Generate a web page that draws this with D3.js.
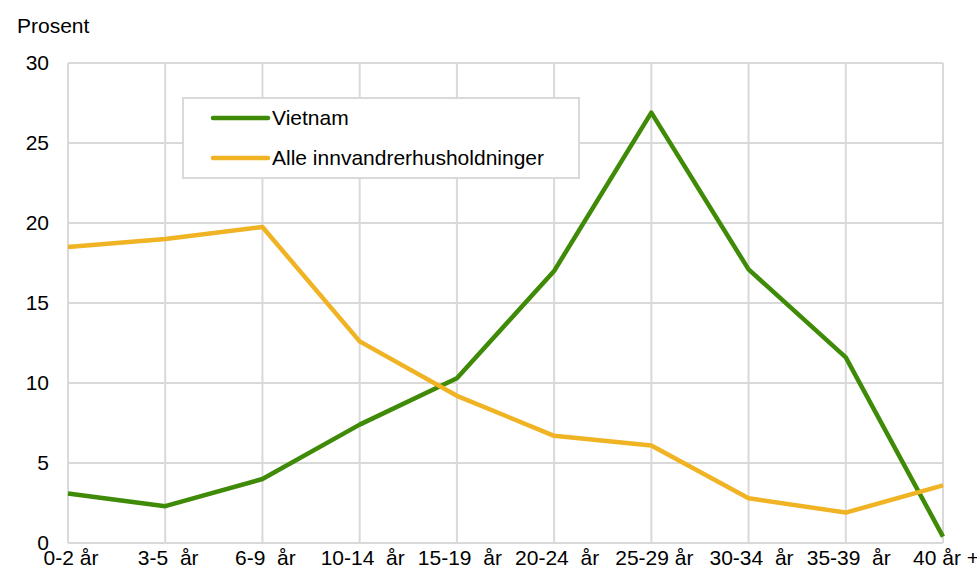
<!DOCTYPE html>
<html><head><meta charset="utf-8">
<script src="https://cdn.jsdelivr.net/npm/d3@7"></script>
<style>
body{margin:0;background:#fff;}
text{font-family:"Liberation Sans",Arial,sans-serif;fill:#000;}
</style></head>
<body>
<svg id="c" width="977" height="570"></svg>
<script>
const categories = ["0-2 år","3-5  år","6-9  år","10-14  år","15-19  år","20-24  år","25-29 år","30-34  år","35-39  år","40 år +"];
const vietnam = [3.1,2.3,4.0,7.4,10.3,17.0,26.9,17.1,11.6,0.4];
const alle = [18.5,19.0,19.75,12.6,9.2,6.7,6.1,2.8,1.9,3.6];
const yTicks = [0,5,10,15,20,25,30];
const seriesNames = ["Vietnam","Alle innvandrerhusholdninger"];
const colors = ["#3f8a06","#f0b323"];

const svg = d3.select("#c");
const x = d3.scalePoint().domain(categories).range([68,943]);
const y = d3.scaleLinear().domain([0,30]).range([543,63]);
const fs = 21;

// gridlines
svg.append("g").selectAll("line").data(yTicks).join("line")
  .attr("x1",68).attr("x2",943).attr("y1",d=>y(d)).attr("y2",d=>y(d))
  .attr("stroke","#d9d9d9").attr("stroke-width",2);
svg.append("g").selectAll("line").data(categories).join("line")
  .attr("x1",d=>x(d)).attr("x2",d=>x(d)).attr("y1",y(0)).attr("y2",y(30))
  .attr("stroke","#d9d9d9").attr("stroke-width",2);

// y labels
svg.append("g").selectAll("text").data(yTicks).join("text")
  .attr("x",49).attr("y",d=>y(d)+7).attr("text-anchor","end")
  .attr("font-size",fs).text(d=>d);
svg.append("text").attr("x",17).attr("y",33).attr("font-size",fs).text("Prosent");

// x labels
svg.append("g").selectAll("text").data(categories).join("text")
  .attr("x",d=>x(d)+3).attr("y",565).attr("text-anchor","middle")
  .attr("font-size",fs).style("white-space","pre").attr("xml:space","preserve").text(d=>d);

// lines
const line = d3.line().x((d,i)=>x(categories[i])).y(d=>y(d));
[vietnam,alle].forEach((s,i)=>{
  svg.append("path").datum(s).attr("d",line).attr("fill","none")
    .attr("stroke",colors[i]).attr("stroke-width",4.5).attr("stroke-linejoin","round");
});

// legend
const lg = svg.append("g");
lg.append("rect").attr("x",183).attr("y",98).attr("width",396).attr("height",80)
  .attr("fill","#fff").attr("stroke","#d9d9d9").attr("stroke-width",2);
seriesNames.forEach((n,i)=>{
  const yy = 118 + i*40;
  lg.append("line").attr("x1",213).attr("x2",268).attr("y1",yy).attr("y2",yy)
    .attr("stroke",colors[i]).attr("stroke-width",4.5).attr("stroke-linecap","round");
  lg.append("text").attr("x",272).attr("y",yy+7).attr("font-size",fs).text(n);
});
</script>
</body></html>
